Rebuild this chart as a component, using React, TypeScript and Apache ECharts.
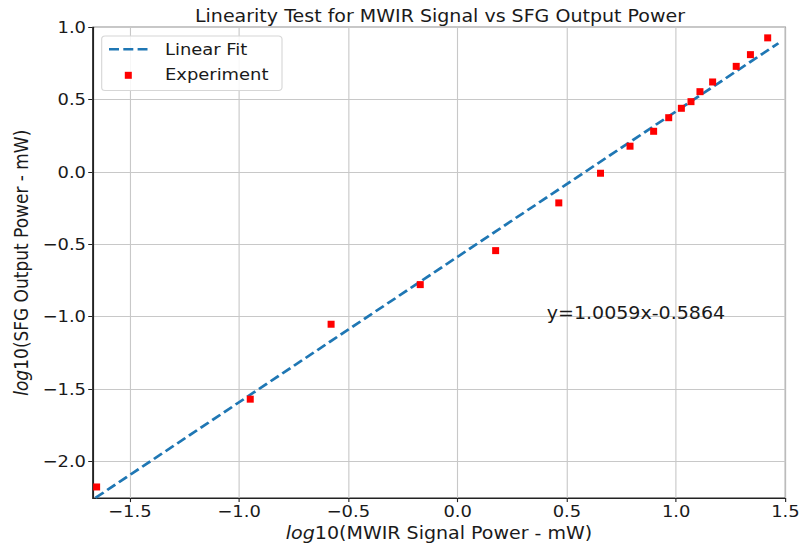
import React, { useEffect, useRef } from "react";
import * as echarts from "echarts";

// ---- data ----
const expX = [-1.652, -0.949, -0.579, -0.171, 0.174, 0.463, 0.654, 0.789, 0.897, 0.966, 1.024, 1.068, 1.109, 1.167, 1.275, 1.340, 1.419];
const expY = [-2.178, -1.571, -1.053, -0.779, -0.544, -0.214, -0.009, 0.178, 0.281, 0.375, 0.440, 0.486, 0.555, 0.622, 0.730, 0.811, 0.927];
const fitX = [-1.657, 1.468];
const fitY = [-2.253, 0.890];
const xTicks = [-1.5, -1.0, -0.5, 0.0, 0.5, 1.0, 1.5];
const yTicks = [-2.0, -1.5, -1.0, -0.5, 0.0, 0.5, 1.0];
const titleText = "Linearity Test for MWIR Signal vs SFG Output Power";
const fitLabel = "Linear Fit";
const expLabel = "Experiment";
const equationText = "y=1.0059x-0.5864";

const W = 717;
const H = 546;
const S = 803 / W;
const X = (px: number) => px / S;
const FONT = "DejaVu Sans";
const TXT = "#1a1a1a";

const fmt = (v: number) => {
  const s = v.toFixed(1);
  return s.startsWith("-") ? "\u2212" + s.slice(1) : s;
};

export default function App() {
  const ref = useRef<HTMLDivElement>(null);
  useEffect(() => {
    if (!ref.current) return;
    const chart = echarts.init(ref.current, undefined, { renderer: "svg" });
    const axisCommon = {
      axisLine: { show: true, onZero: false, lineStyle: { color: "#222", width: 1 } },
      axisTick: { show: true, inside: false, length: 4, lineStyle: { color: "#222", width: 1 } },
      splitLine: { show: true, lineStyle: { color: "#c8c8c8", width: 1 } },
    };
    chart.setOption({
      animation: false,
      backgroundColor: "#ffffff",
      textStyle: { fontFamily: FONT },
      grid: {
        left: X(92.7),
        right: W - X(787.3),
        top: 27.3,
        bottom: H - 498.3,
        show: true,
        borderColor: "#222",
        borderWidth: 1,
        backgroundColor: "#fff",
      },
      xAxis: {
        type: "value",
        min: -1.67,
        max: 1.5,
        ...axisCommon,
        axisTick: { ...axisCommon.axisTick, customValues: xTicks },
        axisLabel: {
          customValues: xTicks,
          formatter: (v: number) => fmt(v),
          fontSize: 16,
          color: TXT,
          margin: 5,
          fontFamily: FONT,
        },
        name: "{i|log}10(MWIR Signal Power - mW)",
        nameLocation: "middle",
        nameGap: 22,
        nameTextStyle: {
          fontSize: 17,
          color: TXT,
          fontFamily: FONT,
          rich: { i: { fontStyle: "italic", fontSize: 17, color: TXT, fontFamily: FONT } },
        },
      },
      yAxis: {
        type: "value",
        min: -2.255,
        max: 1.0,
        ...axisCommon,
        axisTick: { ...axisCommon.axisTick, customValues: yTicks },
        axisLabel: {
          customValues: yTicks,
          formatter: (v: number) => fmt(v),
          fontSize: 16,
          color: TXT,
          margin: 6,
          fontFamily: FONT,
        },
        name: "{i|log}10(SFG Output Power - mW)",
        nameLocation: "middle",
        nameGap: 50,
        nameTextStyle: {
          fontSize: 17,
          color: TXT,
          fontFamily: FONT,
          rich: { i: { fontStyle: "italic", fontSize: 17, color: TXT, fontFamily: FONT } },
        },
      },
      series: [
        {
          name: fitLabel,
          type: "line",
          data: fitX.map((x, i) => [x, fitY[i]]),
          showSymbol: false,
          symbol: "none",
          lineStyle: { color: "#1f77b4", width: 2.6, type: [9, 4] },
          z: 2,
        },
        {
          name: expLabel,
          type: "scatter",
          data: expX.map((x, i) => [x, expY[i]]),
          symbol: "rect",
          symbolSize: [X(7), 7],
          itemStyle: { color: "#ff0000", opacity: 1 },
          z: 3,
        },
      ],
      graphic: [
        {
          type: "text",
          x: X(440),
          y: 7,
          z: 100,
          style: { text: titleText, fontSize: 17, fontFamily: FONT, fill: TXT, textAlign: "center", textVerticalAlign: "top" },
        },
        {
          type: "rect",
          z: 100,
          shape: { x: X(101.7), y: 36, width: X(282) - X(101.7), height: 54.5, r: 3 },
          style: { fill: "rgba(255,255,255,0.85)", stroke: "#d6d6d6", lineWidth: 1 },
        },
        {
          type: "line",
          z: 101,
          shape: { x1: X(109), y1: 49.3, x2: X(147.5), y2: 49.3 },
          style: { stroke: "#1f77b4", lineWidth: 2.6, lineDash: [X(10), X(4.3)] },
        },
        {
          type: "rect",
          z: 101,
          shape: { x: X(128.3) - X(3.5), y: 75.3 - 3.5, width: X(7), height: 7 },
          style: { fill: "#ff0000" },
        },
        {
          type: "text",
          z: 101,
          x: X(165),
          y: 49,
          style: { text: fitLabel, fontSize: 16, fontFamily: FONT, fill: TXT, textVerticalAlign: "middle" },
        },
        {
          type: "text",
          z: 101,
          x: X(165),
          y: 74,
          style: { text: expLabel, fontSize: 16, fontFamily: FONT, fill: TXT, textVerticalAlign: "middle" },
        },
        {
          type: "text",
          z: 101,
          x: X(546.7),
          y: 313,
          style: { text: equationText, fontSize: 17, fontFamily: FONT, fill: TXT, textVerticalAlign: "middle" },
        },
      ],
    });
    return () => chart.dispose();
  }, []);
  return (
    <div style={{ position: "absolute", left: 0, top: 0, width: 803, height: 546, overflow: "hidden", background: "#fff" }}>
      <div
        ref={ref}
        style={{ width: W, height: H, transform: `scaleX(${S})`, transformOrigin: "0 0" }}
      />
    </div>
  );
}
